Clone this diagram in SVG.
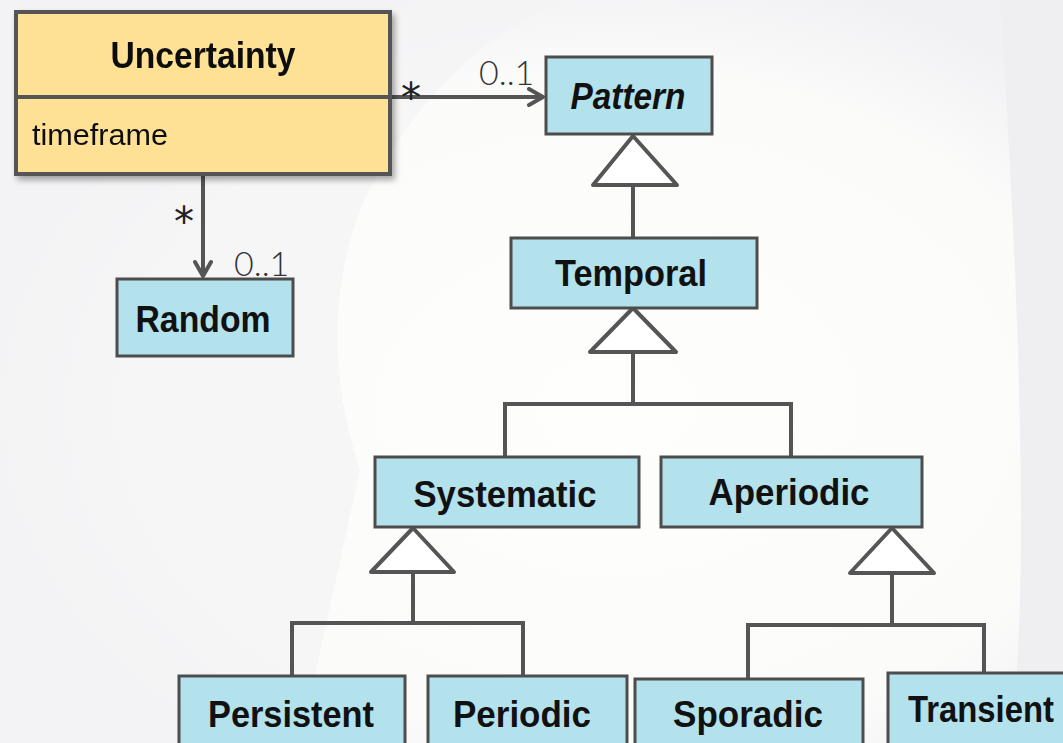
<svg xmlns="http://www.w3.org/2000/svg" width="1063" height="743" viewBox="0 0 1063 743">
  <defs>
    <style>
      .cls { fill: #b3e2ec; stroke: #4d4d4d; stroke-width: 3; }
      .main { fill: #fee194; stroke: #555555; stroke-width: 4; }
      .name { font-family: "Liberation Sans", Arial, sans-serif; font-weight: bold; font-size: 37px; fill: #111111; text-anchor: middle; }
      .attr { font-family: "Liberation Sans", Arial, sans-serif; font-size: 29px; fill: #111111; }
      .mult { font-family: "Lato", "DejaVu Sans", sans-serif; font-weight: 300; font-size: 34px; fill: #333333; }
      .star { font-family: "DejaVu Sans", sans-serif; font-size: 40px; fill: #222222; text-anchor: middle; }
      .wire { fill: none; stroke: #555555; stroke-width: 4; }
      .gen { fill: #ffffff; stroke: #555555; stroke-width: 4; stroke-linejoin: round; }
    </style>
    <filter id="shadow" x="-10%" y="-10%" width="125%" height="130%">
      <feGaussianBlur in="SourceAlpha" stdDeviation="3"/>
      <feOffset dx="3" dy="4"/>
      <feComponentTransfer><feFuncA type="linear" slope="0.35"/></feComponentTransfer>
      <feMerge><feMergeNode/><feMergeNode in="SourceGraphic"/></feMerge>
    </filter>
    <marker id="open" viewBox="0 0 20 20" refX="17" refY="10" markerWidth="20" markerHeight="20" markerUnits="userSpaceOnUse" orient="auto">
      <path d="M3,2 L17,10 L3,18" fill="none" stroke="#555555" stroke-width="4" stroke-linecap="round" stroke-linejoin="round"/>
    </marker>
    <radialGradient id="glow" cx="0.58" cy="0.55" r="0.6">
      <stop offset="0" stop-color="#fefefd"/>
      <stop offset="0.75" stop-color="#fbfbfa"/>
      <stop offset="1" stop-color="#f1f1f4"/>
    </radialGradient>
  </defs>

  <!-- backdrop -->
  <rect width="1063" height="743" fill="url(#glow)"/>
  <path d="M0,0 H560 C470,40 400,120 360,210 C330,290 330,380 360,470 L300,743 H0 Z" fill="#f3f3f5" opacity="0.7"/>
  <path d="M1000,0 H1063 V743 H1010 C1030,600 1020,300 1000,0 Z" fill="#efeff2"/>

  <!-- connectors -->
  <g id="connectors">
    <line class="wire" x1="390" y1="97" x2="543" y2="97" marker-end="url(#open)"/>
    <line class="wire" x1="203" y1="174" x2="203" y2="276" marker-end="url(#open)"/>
    <text class="star" x="411" y="112">*</text>
    <text class="mult" x="479" y="85">0..1</text>
    <text class="star" x="184" y="236">*</text>
    <text class="mult" x="234" y="276">0..1</text>

    <!-- Temporal to Pattern -->
    <line class="wire" x1="633" y1="185" x2="633" y2="239"/>
    <polygon class="gen" points="633,136 677,185 593,185"/>

    <!-- Systematic/Aperiodic to Temporal -->
    <polyline class="wire" points="505,458 505,404 791,404 791,458"/>
    <line class="wire" x1="633" y1="352" x2="633" y2="404"/>
    <polygon class="gen" points="633,308 676,352 590,352"/>

    <!-- Persistent/Periodic to Systematic -->
    <polyline class="wire" points="292,676 292,623 523,623 523,676"/>
    <line class="wire" x1="413" y1="572" x2="413" y2="623"/>
    <polygon class="gen" points="413,528 454,572 371,572"/>

    <!-- Sporadic/Transient to Aperiodic -->
    <polyline class="wire" points="748,679 748,625 984,625 984,673"/>
    <line class="wire" x1="892" y1="573" x2="892" y2="625"/>
    <polygon class="gen" points="892,528 934,573 850,573"/>
  </g>

  <g id="uncertainty" filter="url(#shadow)">
    <rect class="main" x="16" y="12" width="374" height="162"/>
    <line x1="16" y1="97" x2="390" y2="97" stroke="#555555" stroke-width="4"/>
    <text class="name" x="203" y="68" textLength="185" lengthAdjust="spacingAndGlyphs">Uncertainty</text>
    <text class="attr" x="32" y="145" textLength="136" lengthAdjust="spacingAndGlyphs">timeframe</text>
  </g>

  <g id="pattern">
    <rect class="cls" x="546" y="57" width="166" height="77"/>
    <text class="name" x="628" y="109" font-style="italic" textLength="115" lengthAdjust="spacingAndGlyphs">Pattern</text>
  </g>

  <g id="random">
    <rect class="cls" x="117" y="279" width="176" height="77"/>
    <text class="name" x="203" y="332" textLength="135" lengthAdjust="spacingAndGlyphs">Random</text>
  </g>

  <g id="temporal">
    <rect class="cls" x="511" y="238" width="246" height="70"/>
    <text class="name" x="631" y="286" textLength="152" lengthAdjust="spacingAndGlyphs">Temporal</text>
  </g>

  <g id="systematic">
    <rect class="cls" x="375" y="457" width="264" height="70"/>
    <text class="name" x="505" y="507" textLength="183" lengthAdjust="spacingAndGlyphs">Systematic</text>
  </g>

  <g id="aperiodic">
    <rect class="cls" x="661" y="457" width="261" height="70"/>
    <text class="name" x="789" y="505" textLength="161" lengthAdjust="spacingAndGlyphs">Aperiodic</text>
  </g>

  <g id="persistent">
    <rect class="cls" x="179" y="676" width="226" height="80"/>
    <text class="name" x="291" y="727" textLength="166" lengthAdjust="spacingAndGlyphs">Persistent</text>
  </g>

  <g id="periodic">
    <rect class="cls" x="428" y="676" width="199" height="80"/>
    <text class="name" x="522" y="727" textLength="138" lengthAdjust="spacingAndGlyphs">Periodic</text>
  </g>

  <g id="sporadic">
    <rect class="cls" x="635" y="679" width="228" height="80"/>
    <text class="name" x="748" y="727" textLength="150" lengthAdjust="spacingAndGlyphs">Sporadic</text>
  </g>

  <g id="transient">
    <rect class="cls" x="888" y="673" width="190" height="80"/>
    <text class="name" x="981" y="722" textLength="146" lengthAdjust="spacingAndGlyphs">Transient</text>
  </g>
</svg>
